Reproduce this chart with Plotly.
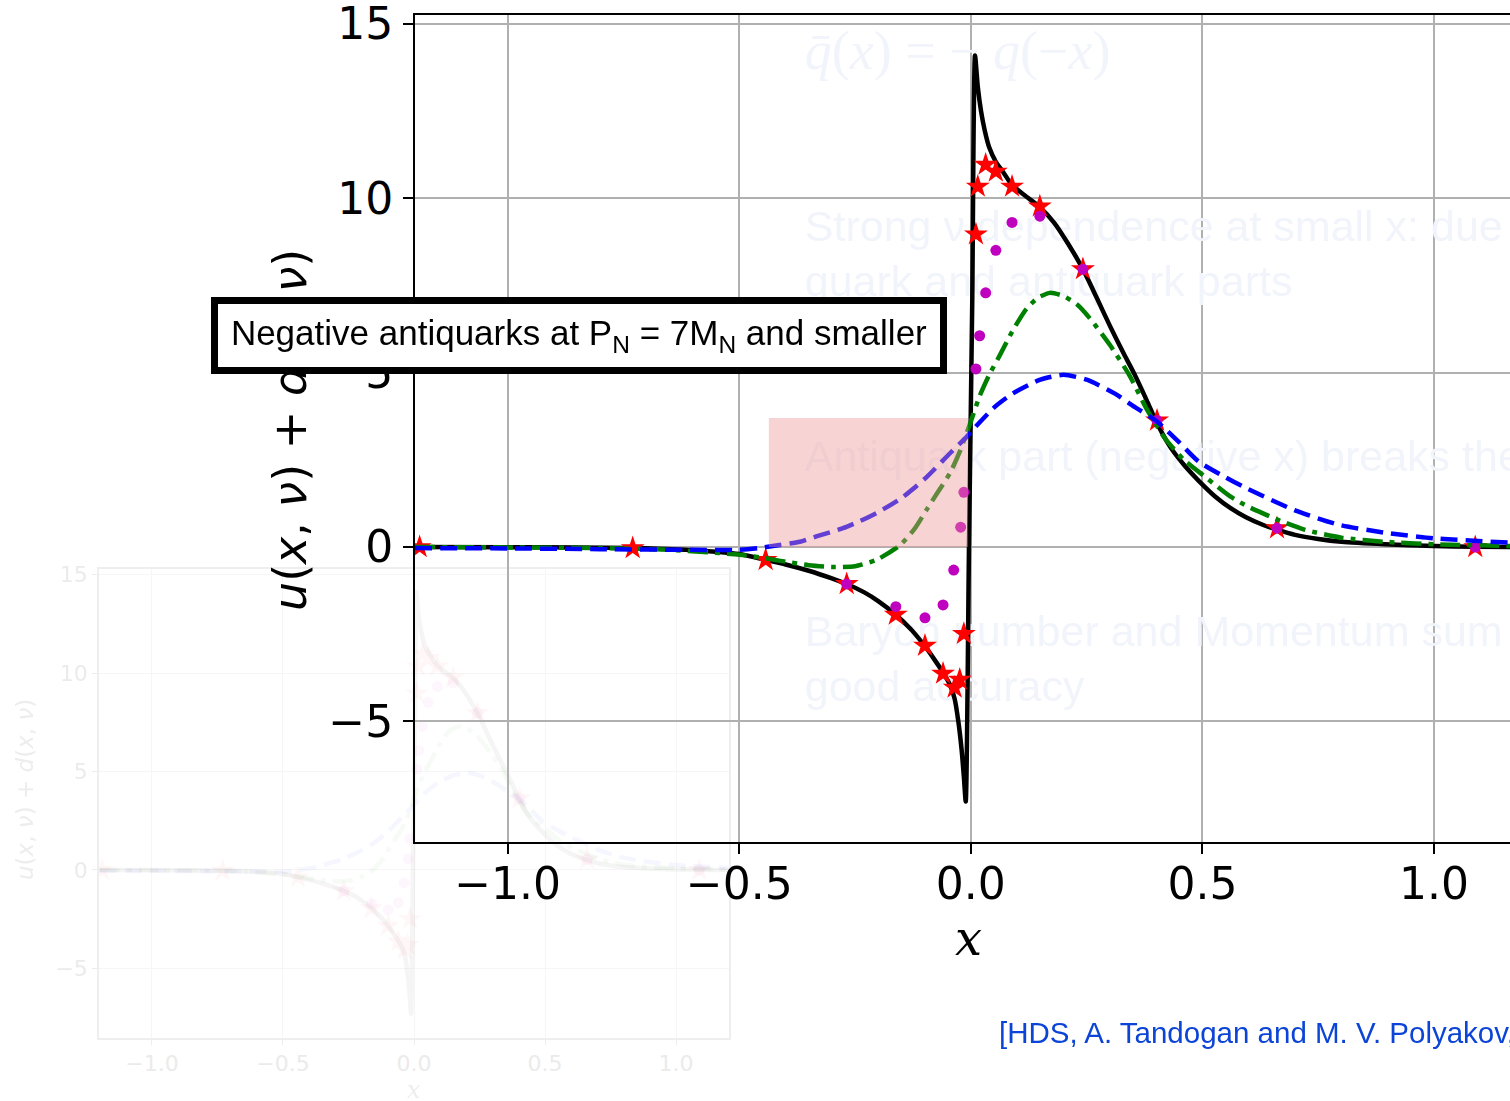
import plotly.graph_objects as go

# Ejes
x_ticks = [-1.0, -0.5, 0.0, 0.5, 1.0]
x_ticktext = ["\u22121.0", "\u22120.5", "0.0", "0.5", "1.0"]
y_ticks = [-5, 0, 5, 10, 15]
y_ticktext = ["\u22125", "0", "5", "10", "15"]

# Curva negra (sólida)
x_black = [-1.2, -1.0, -0.85, -0.73, -0.6, -0.5, -0.443, -0.4, -0.35, -0.3,
           -0.268, -0.23, -0.2, -0.162, -0.13, -0.1, -0.08, -0.06, -0.045,
           -0.035, -0.027, -0.02, -0.015, -0.011, -0.004, 0.003, 0.009, 0.015,
           0.022, 0.03, 0.04, 0.054, 0.07, 0.089, 0.12, 0.149, 0.18, 0.21,
           0.242, 0.27, 0.3, 0.33, 0.352, 0.38, 0.402, 0.43, 0.46, 0.492,
           0.53, 0.56, 0.593, 0.63, 0.661, 0.7, 0.75, 0.8, 0.894, 1.0, 1.089,
           1.2]
y_black = [0.0, -0.005, -0.015, -0.03, -0.09, -0.2, -0.37, -0.5, -0.68, -0.9,
           -1.06, -1.3, -1.55, -1.94, -2.35, -2.83, -3.2, -3.6, -3.95,
           -4.35, -5.0, -5.8, -6.6, -7.3, 0.0, 7.0, 14.1, 13.2,
           12.5, 11.95, 11.45, 11.05, 10.75, 10.38, 10.05, 9.75, 9.3, 8.7,
           7.97, 7.2, 6.35, 5.55, 4.99, 4.2, 3.55, 2.88, 2.36, 1.9,
           1.42, 1.12, 0.86, 0.64, 0.5, 0.35, 0.23, 0.15, 0.08, 0.03, 0.01,
           0.0]

# Curva verde (punto y raya)
x_green = [-1.2, -1.0, -0.8, -0.65, -0.5, -0.44, -0.4, -0.35, -0.3, -0.25,
           -0.204, -0.153, -0.12, -0.096, -0.07, -0.045, -0.025, -0.009,
           0.001, 0.019, 0.04, 0.063, 0.09, 0.12, 0.145, 0.171, 0.2, 0.23,
           0.257, 0.3, 0.343, 0.38, 0.42, 0.46, 0.512, 0.56, 0.6, 0.663,
           0.72, 0.8, 0.894, 1.0, 1.2]
y_green = [0.0, -0.01, -0.03, -0.08, -0.22, -0.33, -0.42, -0.52, -0.57, -0.55,
           -0.37, 0.05, 0.55, 1.06, 1.6, 2.12, 2.7, 3.27,
           3.64, 4.33, 4.95, 5.51, 6.2, 6.83, 7.15, 7.29, 7.2, 6.95,
           6.56, 5.8, 4.91, 3.95, 3.1, 2.5, 1.95, 1.45, 1.15, 0.78,
           0.5, 0.27, 0.15, 0.08, 0.02]

# Curva azul (rayas)
x_blue = [-1.2, -1.0, -0.8, -0.6, -0.5, -0.456, -0.413, -0.369, -0.33, -0.276,
          -0.24, -0.204, -0.147, -0.096, -0.045, -0.009, 0.0, 0.05, 0.09,
          0.15, 0.2, 0.25, 0.311, 0.35, 0.402, 0.45, 0.492, 0.55, 0.593,
          0.7, 0.794, 0.9, 1.0, 1.2]
y_blue = [-0.03, -0.04, -0.06, -0.08, -0.08, -0.03, 0.06, 0.15, 0.32, 0.54,
          0.74, 0.97, 1.43, 2.0, 2.69, 3.16, 3.3, 4.0, 4.4,
          4.8, 4.94, 4.8, 4.4, 4.05, 3.6, 3.0, 2.45, 2.0, 1.7,
          1.05, 0.64, 0.4, 0.25, 0.1]

# Estrellas rojas
x_stars = [-1.19, -0.73, -0.443, -0.268, -0.162, -0.099, -0.06, -0.035,
           -0.024, -0.015, 0.011, 0.015, 0.032, 0.054, 0.089, 0.149, 0.242,
           0.402, 0.661, 1.089]
y_stars = [0.0, -0.03, -0.37, -1.06, -1.94, -2.83, -3.63, -4.03,
           -3.8, -2.49, 8.97, 10.34, 10.97, 10.77, 10.34, 9.77, 7.97,
           3.63, 0.54, 0.0]

# Puntos magenta
x_dots = [-0.268, -0.162, -0.099, -0.06, -0.037, -0.022, -0.015, 0.011,
          0.019, 0.032, 0.054, 0.089, 0.149, 0.242, 0.402, 0.661, 1.089]
y_dots = [-1.06, -1.71, -2.03, -1.66, -0.66, 0.57, 1.57, 5.11,
          6.06, 7.29, 8.51, 9.31, 9.49, 7.97, 3.63, 0.54, 0.0]

W, H = 1510, 1101


def add_series(fig, xa, ya, opacity):
    """Agrega las cinco series a un par de ejes."""
    fig.add_trace(go.Scatter(x=x_black, y=y_black, mode="lines",
                             line=dict(color="black", width=4.5,
                                       shape="spline", smoothing=0.6),
                             opacity=opacity, xaxis=xa, yaxis=ya))
    fig.add_trace(go.Scatter(x=x_stars, y=y_stars, mode="markers",
                             marker=dict(symbol="star", size=18, color="red",
                                         line_width=0),
                             opacity=opacity, xaxis=xa, yaxis=ya))
    fig.add_trace(go.Scatter(x=x_dots, y=y_dots, mode="markers",
                             marker=dict(symbol="circle", size=11,
                                         color="#bf00bf", line_width=0),
                             opacity=opacity, xaxis=xa, yaxis=ya))
    fig.add_trace(go.Scatter(x=x_green, y=y_green, mode="lines",
                             line=dict(color="green", width=4.5,
                                       dash="20px,7px,5px,7px",
                                       shape="spline", smoothing=0.6),
                             opacity=opacity, xaxis=xa, yaxis=ya))
    fig.add_trace(go.Scatter(x=x_blue, y=y_blue, mode="lines",
                             line=dict(color="blue", width=4.5,
                                       dash="17px,8px",
                                       shape="spline", smoothing=0.6),
                             opacity=opacity, xaxis=xa, yaxis=ya))


fig = go.Figure()

# Gráfica tenue al fondo (abajo a la izquierda)
add_series(fig, "x", "y", 0.035)

# Textos tenues detrás de la gráfica principal
faint = "#f1f4fa"
fig.add_trace(go.Scatter(
    x=[-0.3585], y=[14.11], mode="text",
    text=["<i>q\u0304</i>(<i>x</i>) = \u2212 <i>q</i>(\u2212<i>x</i>)"],
    textposition="middle right",
    textfont=dict(family="Liberation Serif", size=54, color=faint),
    xaxis="x2", yaxis="y2"))
faint_lines = [
    (9.09, "Strong \u03bd dependence at small x: due to interplay of"),
    (7.51, "quark and antiquark parts"),
    (2.49, "Antiquark part (negative x) breaks the positivity"),
    (-2.52, "Baryon number and Momentum sum rules hold with"),
    (-4.10, "good accuracy"),
]
fig.add_trace(go.Scatter(
    x=[-0.3585] * len(faint_lines), y=[v for v, _ in faint_lines],
    mode="text", text=[t for _, t in faint_lines],
    textposition="middle right",
    textfont=dict(family="Liberation Sans", size=43, color=faint),
    xaxis="x2", yaxis="y2"))

# Gráfica principal
add_series(fig, "x2", "y2", 1.0)

ghost_axis = dict(
    showgrid=True, gridcolor="#f6f6f6", gridwidth=1,
    showline=True, linecolor="#eeeeee", linewidth=1.5, mirror=True,
    ticks="outside", ticklen=5, tickcolor="#eeeeee", zeroline=False,
    tickfont=dict(family="DejaVu Sans", size=22, color="#ebebeb"),
)
main_axis = dict(
    showgrid=True, gridcolor="#b0b0b0", gridwidth=2.2,
    showline=True, linecolor="black", linewidth=2,
    ticks="outside", ticklen=10, tickwidth=2, tickcolor="black",
    zeroline=False, ticklabeloverflow="allow",
    tickfont=dict(family="DejaVu Sans", size=44, color="black"),
)

fig.update_layout(
    width=W,
    height=H,
    showlegend=False,
    paper_bgcolor="white",
    plot_bgcolor="rgba(0,0,0,0)",
    margin=dict(l=0, r=0, t=0, b=0, pad=0, autoexpand=False),
    xaxis=dict(ghost_axis, domain=[99 / W, 729 / W], range=[-1.202, 1.202],
               anchor="y", tickvals=x_ticks, ticktext=x_ticktext),
    yaxis=dict(ghost_axis, domain=[1 - 1038 / H, 1 - 569 / H],
               range=[-8.53, 15.28], anchor="x",
               tickvals=y_ticks, ticktext=y_ticktext),
    xaxis2=dict(main_axis, domain=[415 / W, 1.0], range=[-1.2, 1.164],
                anchor="y2", mirror=True, ticklabelstandoff=-8,
                tickvals=x_ticks, ticktext=x_ticktext),
    yaxis2=dict(main_axis, domain=[1 - 842 / H, 1 - 15 / H],
                range=[-8.46, 15.26], anchor="x2", ticklabelstandoff=1,
                tickvals=y_ticks, ticktext=y_ticktext),
)

# Rectángulo rosa translúcido
fig.add_shape(type="rect", xref="x2", yref="y2",
              x0=-0.436, x1=-0.006, y0=0, y1=3.7,
              fillcolor="rgba(235,150,150,0.42)", line_width=0,
              layer="above")

ytitle = "<i>u</i>(<i>x</i>, <i>\u03bd</i>) + <i>d</i>(<i>x</i>, <i>\u03bd</i>)"

fig.update_layout(
    annotations=[
        # títulos de la gráfica tenue
        dict(x=25 / W, y=1 - 790 / H, xref="paper", yref="paper",
             text=ytitle, textangle=-90, showarrow=False,
             xanchor="center", yanchor="middle",
             font=dict(family="DejaVu Sans", size=23, color="#ededed")),
        dict(x=414 / W, y=1 - 1090 / H, xref="paper", yref="paper",
             text="<i>x</i>", showarrow=False,
             xanchor="center", yanchor="middle",
             font=dict(family="DejaVu Serif", size=24, color="#ededed")),
        # títulos de la gráfica principal
        dict(x=290 / W, y=1 - 430 / H, xref="paper", yref="paper",
             text=ytitle, textangle=-90, showarrow=False,
             xanchor="center", yanchor="middle",
             font=dict(family="DejaVu Sans", size=46, color="black")),
        dict(x=968 / W, y=1 - 938 / H, xref="paper", yref="paper",
             text="<i>x</i>", showarrow=False,
             xanchor="center", yanchor="middle",
             font=dict(family="DejaVu Serif", size=48, color="black")),
        # recuadro
        dict(x=579 / W, y=1 - 335.5 / H, xref="paper", yref="paper",
             text="Negative antiquarks at P<sub>N</sub> = 7M<sub>N</sub> and smaller",
             showarrow=False, xanchor="center", yanchor="middle",
             width=722, height=63, align="center",
             bgcolor="white", bordercolor="black", borderwidth=7,
             borderpad=0,
             font=dict(family="Liberation Sans", size=35, color="black")),
        # referencia
        dict(x=997 / W, y=1 - 1032 / H, xref="paper", yref="paper",
             text="[HDS, A. Tandogan and M. V. Polyakov, PRD]",
             showarrow=False, xanchor="left", yanchor="middle",
             font=dict(family="Liberation Sans", size=29.5, color="#0b44d6")),
    ]
)

fig.write_html("out.html", config={"displayModeBar": False},
               post_script="document.body.style.margin='0';")
